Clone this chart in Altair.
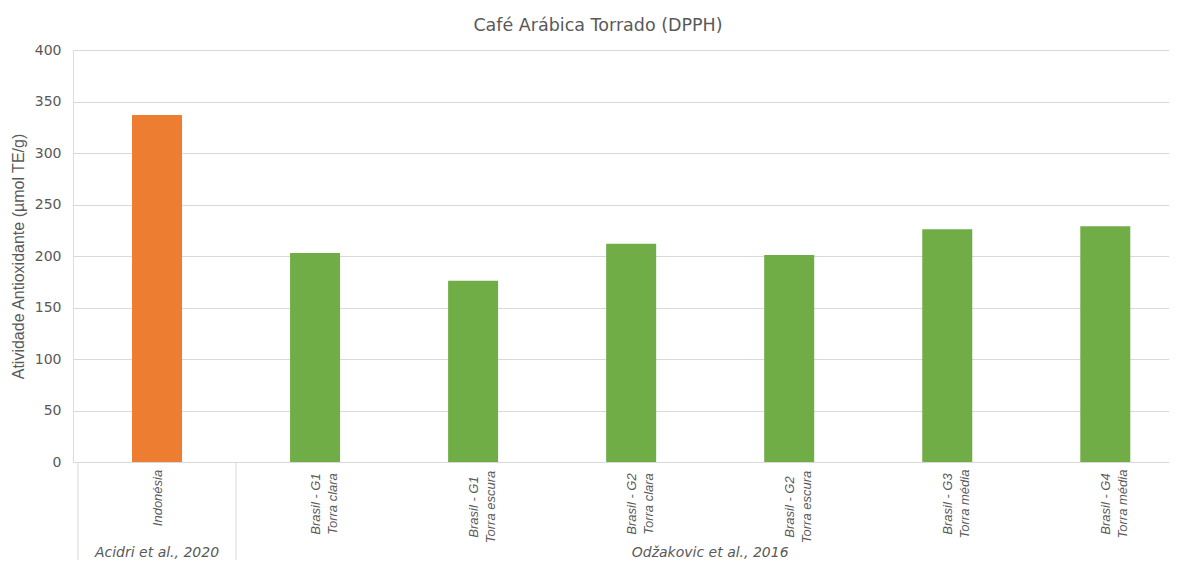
import altair as alt
import pandas as pd

# ---- data ----
origin = ["Indonésia", "Brasil - G1", "Brasil - G1", "Brasil - G2", "Brasil - G2", "Brasil - G3", "Brasil - G4"]
roast = ["", "Torra clara", "Torra escura", "Torra clara", "Torra escura", "Torra média", "Torra média"]
values = [337, 203, 176, 212, 201, 226, 229]
study = ["Acidri et al., 2020"] + ["Odžakovic et al., 2016"] * 6
study_order = ["Acidri et al., 2020", "Odžakovic et al., 2016"]
study_colors = ["#ED7D31", "#70AD47"]
y_ticks = [0, 50, 100, 150, 200, 250, 300, 350, 400]

n = len(values)
labels = [o + ("\n" + r if r else "") for o, r in zip(origin, roast)]
bars = pd.DataFrame({
    "pos": [i + 0.5 for i in range(n)],
    "value": values,
    "study": study,
    "label": labels,
    "origin": origin,
    "roast": roast,
})

# group spans
groups = []
for g in study_order:
    ids = [i for i, s in enumerate(study) if s == g]
    groups.append({"study": g, "start": min(ids), "end": max(ids) + 1,
                   "mid": (min(ids) + max(ids) + 1) / 2})
groups = pd.DataFrame(groups)

# layout: the reference is cropped on the right, the last category band runs off the picture
W = 1096
H = 412
STEP = 159.5
x_max = W / STEP
bounds = pd.DataFrame({"b": [b for b in sorted(set(groups["start"]).union(groups["end"])) if b <= x_max]})

GRAY = "#595959"
LINE = "#d9d9d9"

xscale = alt.Scale(domain=[0, x_max], nice=False, zero=False)

bar_layer = alt.Chart(bars).mark_bar(size=50).encode(
    x=alt.X("pos:Q", scale=xscale, axis=None),
    y=alt.Y("value:Q",
            scale=alt.Scale(domain=[0, 400], nice=False),
            axis=alt.Axis(values=y_ticks, grid=True, gridColor=LINE, domain=False,
                          ticks=False, labelPadding=12, labelFont="DejaVu Sans",
                          labelFontSize=14, labelColor=GRAY,
                          title="Atividade Antioxidante (µmol TE/g)",
                          titleFont="Liberation Sans", titleFontSize=16,
                          titleFontWeight="normal", titleColor=GRAY,
                          titleAngle=270, titleAlign="center", titleBaseline="middle",
                          titleX=-55, titleY=H / 2)),
    color=alt.Color("study:N", scale=alt.Scale(domain=study_order, range=study_colors),
                    legend=None),
)

sep_layer = alt.Chart(bounds).mark_rule(color=LINE, strokeWidth=1).encode(
    x=alt.X("b:Q", scale=xscale, axis=None),
    y=alt.value(H),
    y2=alt.value(H + 98),
)

cat_layer = alt.Chart(bars).transform_calculate(
    ly=f"{H} + 9 + 3.0 * max(length(datum.origin), length(datum.roast))"
).mark_text(
    angle=270, align="center", baseline="middle", lineBreak="\n", lineHeight=17,
    font="Liberation Sans", fontSize=13, fontStyle="italic", color=GRAY, dy=1
).encode(
    x=alt.X("pos:Q", scale=xscale, axis=None),
    y=alt.Y("ly:Q", scale=None),
    text="label:N",
)

grp_layer = alt.Chart(groups).mark_text(
    align="center", baseline="alphabetic", font="DejaVu Sans", fontSize=14,
    fontStyle="italic", color=GRAY
).encode(
    x=alt.X("mid:Q", scale=xscale, axis=None),
    y=alt.value(H + 95),
    text="study:N",
)

chart = alt.layer(bar_layer, sep_layer, cat_layer, grp_layer).properties(
    width=W, height=H,
    title=alt.TitleParams("Café Arábica Torrado (DPPH)", font="DejaVu Sans", fontSize=17.5,
                          fontWeight="normal", color=GRAY, anchor="middle", dx=-23,
                          offset=9),
    autosize=alt.AutoSizeParams(type="none"),
    padding={"left": 65, "top": 42, "right": 0, "bottom": 98},
).configure_view(stroke=None).configure(background="white")

chart.save("out.html", embed_options={"renderer": "svg", "actions": False})
